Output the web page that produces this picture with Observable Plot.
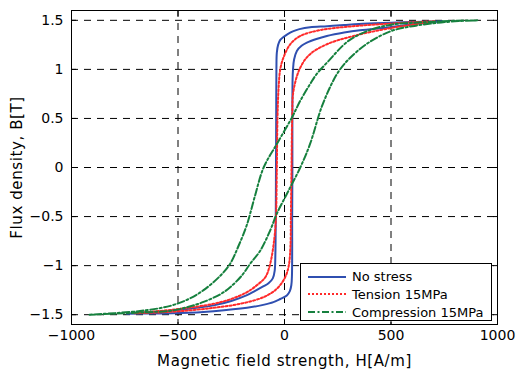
<!DOCTYPE html>
<html><head><meta charset="utf-8">
<script src="https://cdn.jsdelivr.net/npm/d3@7"></script>
<script src="https://cdn.jsdelivr.net/npm/@observablehq/plot@0.6"></script>
<style>
html,body{margin:0;padding:0;background:#fff;overflow:hidden}
#wrap{position:relative;width:520px;height:369px}
#legend{position:absolute;left:300px;top:263px;width:192px;height:58px;border:1px solid #000;background:#fff;font-family:"DejaVu Sans",sans-serif;font-size:13px;box-sizing:border-box;color:#000}
.row{position:absolute;left:0;height:18px;display:flex;align-items:center}
.row svg{margin-left:7px;margin-right:6px}
</style></head><body><div id="wrap"><div id="legend"></div></div>
<script>
// ---- data ----
const seriesNames = ["No stress", "Tension 15MPa", "Compression 15MPa"];
const seriesColors = ["#2f4fb0", "#ff2a2a", "#16803e"];
const seriesDash = [null, "2,2", "7,2.5,2,2.5"];

const xTicks = [-1000, -500, 0, 500, 1000];
const xTickLabels = ["−1000", "−500", "0", "500", "1000"];
const yTicks = [-1.5, -1, -0.5, 0, 0.5, 1, 1.5];
const yTickLabels = ["−1.5", "−1", "−0.5", "0", "0.5", "1", "1.5"];

// No stress: descending branch (from +saturation) and ascending branch
const noStressDescH = [740, 600, 500, 350, 280, 200, 120, 70, 42, 15, -5, -20, -30, -36, -38, -39, -40, -41, -43, -46, -55, -75, -98, -140, -176, -250, -333, -489, -600, -740];
const noStressDescB = [1.49, 1.483, 1.475, 1.462, 1.452, 1.44, 1.43, 1.41, 1.39, 1.36, 1.33, 1.30, 1.25, 1.17, 1.0, 0.5, 0, -0.5, -0.9, -1.05, -1.13, -1.18, -1.21, -1.26, -1.30, -1.36, -1.405, -1.45, -1.47, -1.49];
const noStressAscH = [-740, -600, -489, -333, -176, -100, -52, -20, 11, 25, 32, 35, 36, 37, 37, 38, 40, 45, 58, 80, 105, 150, 199, 280, 355, 496, 600, 740];
const noStressAscB = [-1.49, -1.488, -1.484, -1.464, -1.43, -1.40, -1.372, -1.34, -1.304, -1.26, -1.2, -1.1, -0.5, 0, 0.5, 0.9, 1.0, 1.1, 1.188, 1.24, 1.273, 1.31, 1.34, 1.375, 1.399, 1.43, 1.46, 1.49];

// Tension 15MPa
const tensionDescH = [705, 600, 496, 322, 167, 74, 27, -5, -20, -28, -33, -36, -40, -47, -67, -90, -130, -176, -250, -333, -489, -600, -705];
const tensionDescB = [1.49, 1.48, 1.466, 1.44, 1.40, 1.34, 1.256, 1.12, 1.0, 0.8, 0.5, 0, -0.5, -0.71, -0.98, -1.118, -1.2, -1.27, -1.34, -1.389, -1.44, -1.465, -1.485];
const tensionAscH = [-705, -600, -489, -333, -208, -98, -36, 3, 20, 28, 30, 33, 36, 42, 74, 120, 199, 323, 496, 600, 705];
const tensionAscB = [-1.485, -1.478, -1.464, -1.43, -1.389, -1.321, -1.236, -1.118, -1.0, -0.8, -0.5, 0, 0.5, 0.78, 1.018, 1.155, 1.256, 1.34, 1.42, 1.455, 1.49];

// Compression 15MPa
const compDescH = [905, 800, 700, 600, 500, 400, 300, 200, 150, 120, 74, 35, -36, -98, -140, -176, -216, -255, -300, -380, -450, -536, -650, -800, -920];
const compDescB = [1.50, 1.495, 1.485, 1.475, 1.455, 1.40, 1.29, 1.07, 0.95, 0.85, 0.68, 0.51, 0.24, 0, -0.30, -0.58, -0.80, -0.98, -1.10, -1.25, -1.34, -1.41, -1.455, -1.485, -1.50];
const compAscH = [-920, -800, -650, -536, -450, -380, -300, -255, -200, -161, -114, -67, -36, 19, 74, 120, 175, 230, 261, 300, 386, 500, 600, 700, 800, 905];
const compAscB = [-1.50, -1.49, -1.475, -1.46, -1.42, -1.37, -1.29, -1.22, -1.10, -0.98, -0.848, -0.64, -0.47, -0.236, 0, 0.24, 0.62, 0.89, 1.0, 1.10, 1.26, 1.39, 1.44, 1.47, 1.49, 1.50];

// ---- build table ----
function loop(name, dH, dB, aH, aB) {
  const rows = [];
  dH.forEach((h, i) => rows.push({series: name, H: h, B: dB[i]}));
  aH.forEach((h, i) => rows.push({series: name, H: h, B: aB[i]}));
  return rows;
}
const loops = [
  loop(seriesNames[0], noStressDescH, noStressDescB, noStressAscH, noStressAscB),
  loop(seriesNames[1], tensionDescH, tensionDescB, tensionAscH, tensionAscB),
  loop(seriesNames[2], compDescH, compDescB, compAscH, compAscB)
];

const fmtX = d => xTickLabels[xTicks.indexOf(d)];
const fmtY = d => yTickLabels[yTicks.indexOf(d)];

const chart = Plot.plot({
  width: 520, height: 369,
  marginLeft: 71, marginRight: 23, marginTop: 10, marginBottom: 45,
  style: {fontFamily: "DejaVu Sans, sans-serif", fontSize: "14px", color: "#000", background: "#fff"},
  x: {domain: [-1000, 1000]},
  y: {domain: [-1.6, 1.6]},
  marks: [
    Plot.gridX(xTicks, {stroke: "#000", strokeOpacity: 1, strokeDasharray: "7,6"}),
    Plot.gridY(yTicks, {stroke: "#000", strokeOpacity: 1, strokeDasharray: "7,6"}),
    ...loops.map((rows, k) => Plot.line(rows, {
      x: "H", y: "B", curve: "catmull-rom",
      stroke: seriesColors[k], strokeWidth: 2, strokeDasharray: seriesDash[k]
    })),
    Plot.frame({stroke: "#000", strokeWidth: 1}),
    Plot.axisX(xTicks, {anchor: "bottom", tickSize: -5, fill: "none", label: null}),
    Plot.axisX(xTicks, {anchor: "top", tickSize: -5, fill: "none", label: null}),
    Plot.axisY(yTicks, {anchor: "left", tickSize: -5, fill: "none", label: null}),
    Plot.axisY(yTicks, {anchor: "right", tickSize: -5, fill: "none", label: null}),
    Plot.axisX(xTicks, {anchor: "bottom", tickSize: 0, tickPadding: 6, tickFormat: fmtX, label: null}),
    Plot.axisY(yTicks, {anchor: "left", tickSize: 0, tickPadding: 8, tickFormat: fmtY, label: null}),
    Plot.axisX([], {anchor: "bottom", tickSize: 0, fontSize: 15,
      label: "Magnetic field strength, H[A/m]", labelAnchor: "center", labelOffset: 41, labelArrow: "none"}),
    Plot.axisY([], {anchor: "left", tickSize: 0, fontSize: 15,
      label: "Flux density, B[T]", labelAnchor: "center", labelOffset: 60, labelArrow: "none"})
  ]
});
d3.select(chart).selectAll('g[aria-label="x-axis label"] text, g[aria-label="y-axis label"] text').attr("letter-spacing", "0.6");
const wrap = document.getElementById("wrap");
wrap.insertBefore(chart, wrap.firstChild);

// legend
const legend = document.getElementById("legend");
const rowTops = [3.7, 21.3, 39];
seriesNames.forEach((name, k) => {
  const row = document.createElement("div");
  row.className = "row";
  row.style.top = rowTops[k] + "px";
  row.innerHTML = `<svg width="38" height="6"><line x1="0" y1="3" x2="38" y2="3" stroke="${seriesColors[k]}" stroke-width="2" ${seriesDash[k] ? `stroke-dasharray="${seriesDash[k]}"` : ""}/></svg><span>${name}</span>`;
  legend.appendChild(row);
});
</script></body></html>
